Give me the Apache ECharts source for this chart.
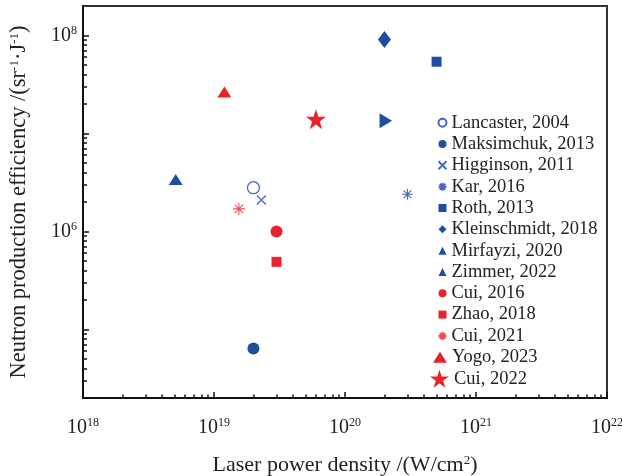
<!DOCTYPE html>
<html><head><meta charset="utf-8">
<script src="https://cdn.jsdelivr.net/npm/echarts@6/dist/echarts.min.js"></script>
<style>html,body{margin:0;padding:0;background:#fff}#c{width:622px;height:476px}</style>
</head><body><div id="c"></div>
<script>
// ---- data ----
const seriesNames = ['Lancaster, 2004','Maksimchuk, 2013','Higginson, 2011','Kar, 2016','Roth, 2013','Kleinschmidt, 2018','Mirfayzi, 2020','Zimmer, 2022','Cui, 2016','Zhao, 2018','Cui, 2021','Yogo, 2023','Cui, 2022'];
const xValues = [2.0e19, 2.0e19, 2.3e19, 3.0e20, 5.0e20, 2.0e20, 5.1e18, 2.05e20, 3.0e19, 3.0e19, 1.55e19, 1.2e19, 6.0e19];
const yValues = [2.8e6, 6.4e4, 2.1e6, 2.4e6, 5.4e7, 9.1e7, 3.4e6, 1.35e7, 1.0e6, 4.9e5, 1.7e6, 2.65e7, 1.4e7];
const xTickLabels = [1e18, 1e19, 1e20, 1e21, 1e22];
const yMajorTicks = [1e5, 1e6, 1e7, 1e8];
const yTickLabels = [1e6, 1e8];
const minorMultipliers = [2,3,4,5,6,7,8,9];
const xDecades = [1e18, 1e19, 1e20, 1e21];
const yDecades = [1e4, 1e5, 1e6, 1e7];

// ---- styles ----
const FONT = 'Liberation Serif';
const B = '#1e4e9f', LB = '#4a68c0', R = '#e8232b', LR = '#ee5059';
const XPATH = 'path://M0,0L10,10M10,0L0,10';
const ASTER = 'path://M5,0L5,10M0,5L10,5M1.46,1.46L8.54,8.54M8.54,1.46L1.46,8.54';
const STAR = 'path://M10,0L12.29,6.85L19.51,6.91L13.71,11.2L15.88,18.09L10,13.9L4.12,18.09L6.29,11.2L0.49,6.91L7.71,6.85Z';
const styles = [
  {symbol:'circle', size:12, fill:'#ffffff', stroke:LB, bw:1.3},
  {symbol:'circle', size:12, fill:B},
  {symbol:XPATH, size:9, fill:'none', stroke:LB, bw:1.3},
  {symbol:ASTER, size:11, fill:'none', stroke:LB, bw:1.1},
  {symbol:'rect', size:10, fill:B},
  {symbol:'diamond', size:[13,17], fill:B},
  {symbol:'triangle', size:[14,11], fill:B},
  {symbol:'triangle', size:[15,12.5], fill:B, rotate:-90},
  {symbol:'circle', size:12, fill:R},
  {symbol:'rect', size:10, fill:R},
  {symbol:ASTER, size:12, fill:'none', stroke:LR, bw:1.1},
  {symbol:'triangle', size:[14,11], fill:R},
  {symbol:STAR, size:20, fill:R}
];

function minorTicks(decades){
  const out = [];
  decades.forEach(d => minorMultipliers.forEach(m => out.push(m*d)));
  return out;
}
function powLabel(v){
  return '{b|10}{s|' + Math.round(Math.log10(v)) + '}';
}
const labelRich = {
  b:{fontFamily:FONT, fontSize:20, color:'#222', lineHeight:22},
  s:{fontFamily:FONT, fontSize:12, color:'#222', verticalAlign:'top', lineHeight:12}
};
const nameRich = {
  s:{fontFamily:FONT, fontSize:13, color:'#222', verticalAlign:'top', lineHeight:13}
};

const series = seriesNames.map((n,i) => {
  const st = styles[i];
  return {
    type:'scatter', name:n, xAxisIndex:0, yAxisIndex:0,
    data:[[xValues[i], yValues[i]]],
    symbol:st.symbol, symbolSize:st.size, symbolRotate:st.rotate || 0,
    itemStyle:{color:st.fill, borderColor:st.stroke || st.fill, borderWidth:st.bw || 0, opacity:1},
    emphasis:{disabled:true}
  };
});

const legendText = {fontFamily:FONT, fontSize:18.5, color:'#222', lineHeight:21.33};
const PLOT_W = 622 - 83 - 15, PLOT_H = 476 - 6 - 78;
const option = {
  animation:false,
  backgroundColor:'#fff',
  grid:{left:83, top:6, right:15, bottom:78, show:true, borderColor:'#333', borderWidth:2,
        containLabel:false, outerBoundsMode:'none'},
  legend:[
    {orient:'vertical', left:431, top:107, itemWidth:8, itemHeight:8, itemGap:0, data:seriesNames.slice(0,11),
     textStyle:legendText, selectedMode:false},
    {orient:'vertical', left:428, top:341.7, itemWidth:14, itemHeight:11, itemGap:0, data:[seriesNames[11]],
     textStyle:legendText, selectedMode:false},
    {orient:'vertical', left:425, top:363, itemWidth:19, itemHeight:18, itemGap:0, data:[seriesNames[12]],
     textStyle:legendText, selectedMode:false}
  ],
  xAxis:[
    {type:'log', logBase:10, min:1e18, max:1e22, position:'bottom',
     axisLine:{show:true, lineStyle:{color:'#111', width:2}},
     axisTick:{show:true, inside:true, length:6, customValues:xTickLabels, lineStyle:{color:'#111', width:1.5}},
     axisLabel:{show:true, customValues:xTickLabels, margin:19, formatter:powLabel, rich:labelRich},
     splitLine:{show:false},
     name:'Laser power density /(W/cm{s|2})', nameLocation:'middle', nameGap:56,
     nameTextStyle:{fontFamily:FONT, fontSize:22, color:'#222', rich:nameRich}},
    {type:'log', logBase:10, min:1e18, max:1e22, position:'top', offset:-PLOT_H,
     axisLine:{show:false},
     axisTick:{show:true, inside:false, length:3.5, customValues:minorTicks(xDecades), lineStyle:{color:'#111', width:1.5}},
     axisLabel:{show:false}, splitLine:{show:false}}
  ],
  yAxis:[
    {type:'log', logBase:10, min:2e4, max:2e8, position:'left',
     axisLine:{show:true, lineStyle:{color:'#111', width:2}},
     axisTick:{show:true, inside:true, length:6, customValues:yMajorTicks, lineStyle:{color:'#111', width:1.5}},
     axisLabel:{show:true, customValues:yTickLabels, margin:6, formatter:powLabel, rich:labelRich},
     splitLine:{show:false},
     name:'Neutron production efficiency /(sr{s|-1}·J{s|-1})', nameLocation:'middle', nameGap:52,
     nameTextStyle:{fontFamily:FONT, fontSize:22.5, color:'#222', rich:nameRich}},
    {type:'log', logBase:10, min:2e4, max:2e8, position:'right', offset:-PLOT_W,
     axisLine:{show:false},
     axisTick:{show:true, inside:false, length:4, customValues:minorTicks(yDecades), lineStyle:{color:'#111', width:1.5}},
     axisLabel:{show:false}, splitLine:{show:false}}
  ],
  series:series
};
const chart = echarts.init(document.getElementById('c'), null, {renderer:'canvas'});
chart.setOption(option);
</script>
</body></html>
